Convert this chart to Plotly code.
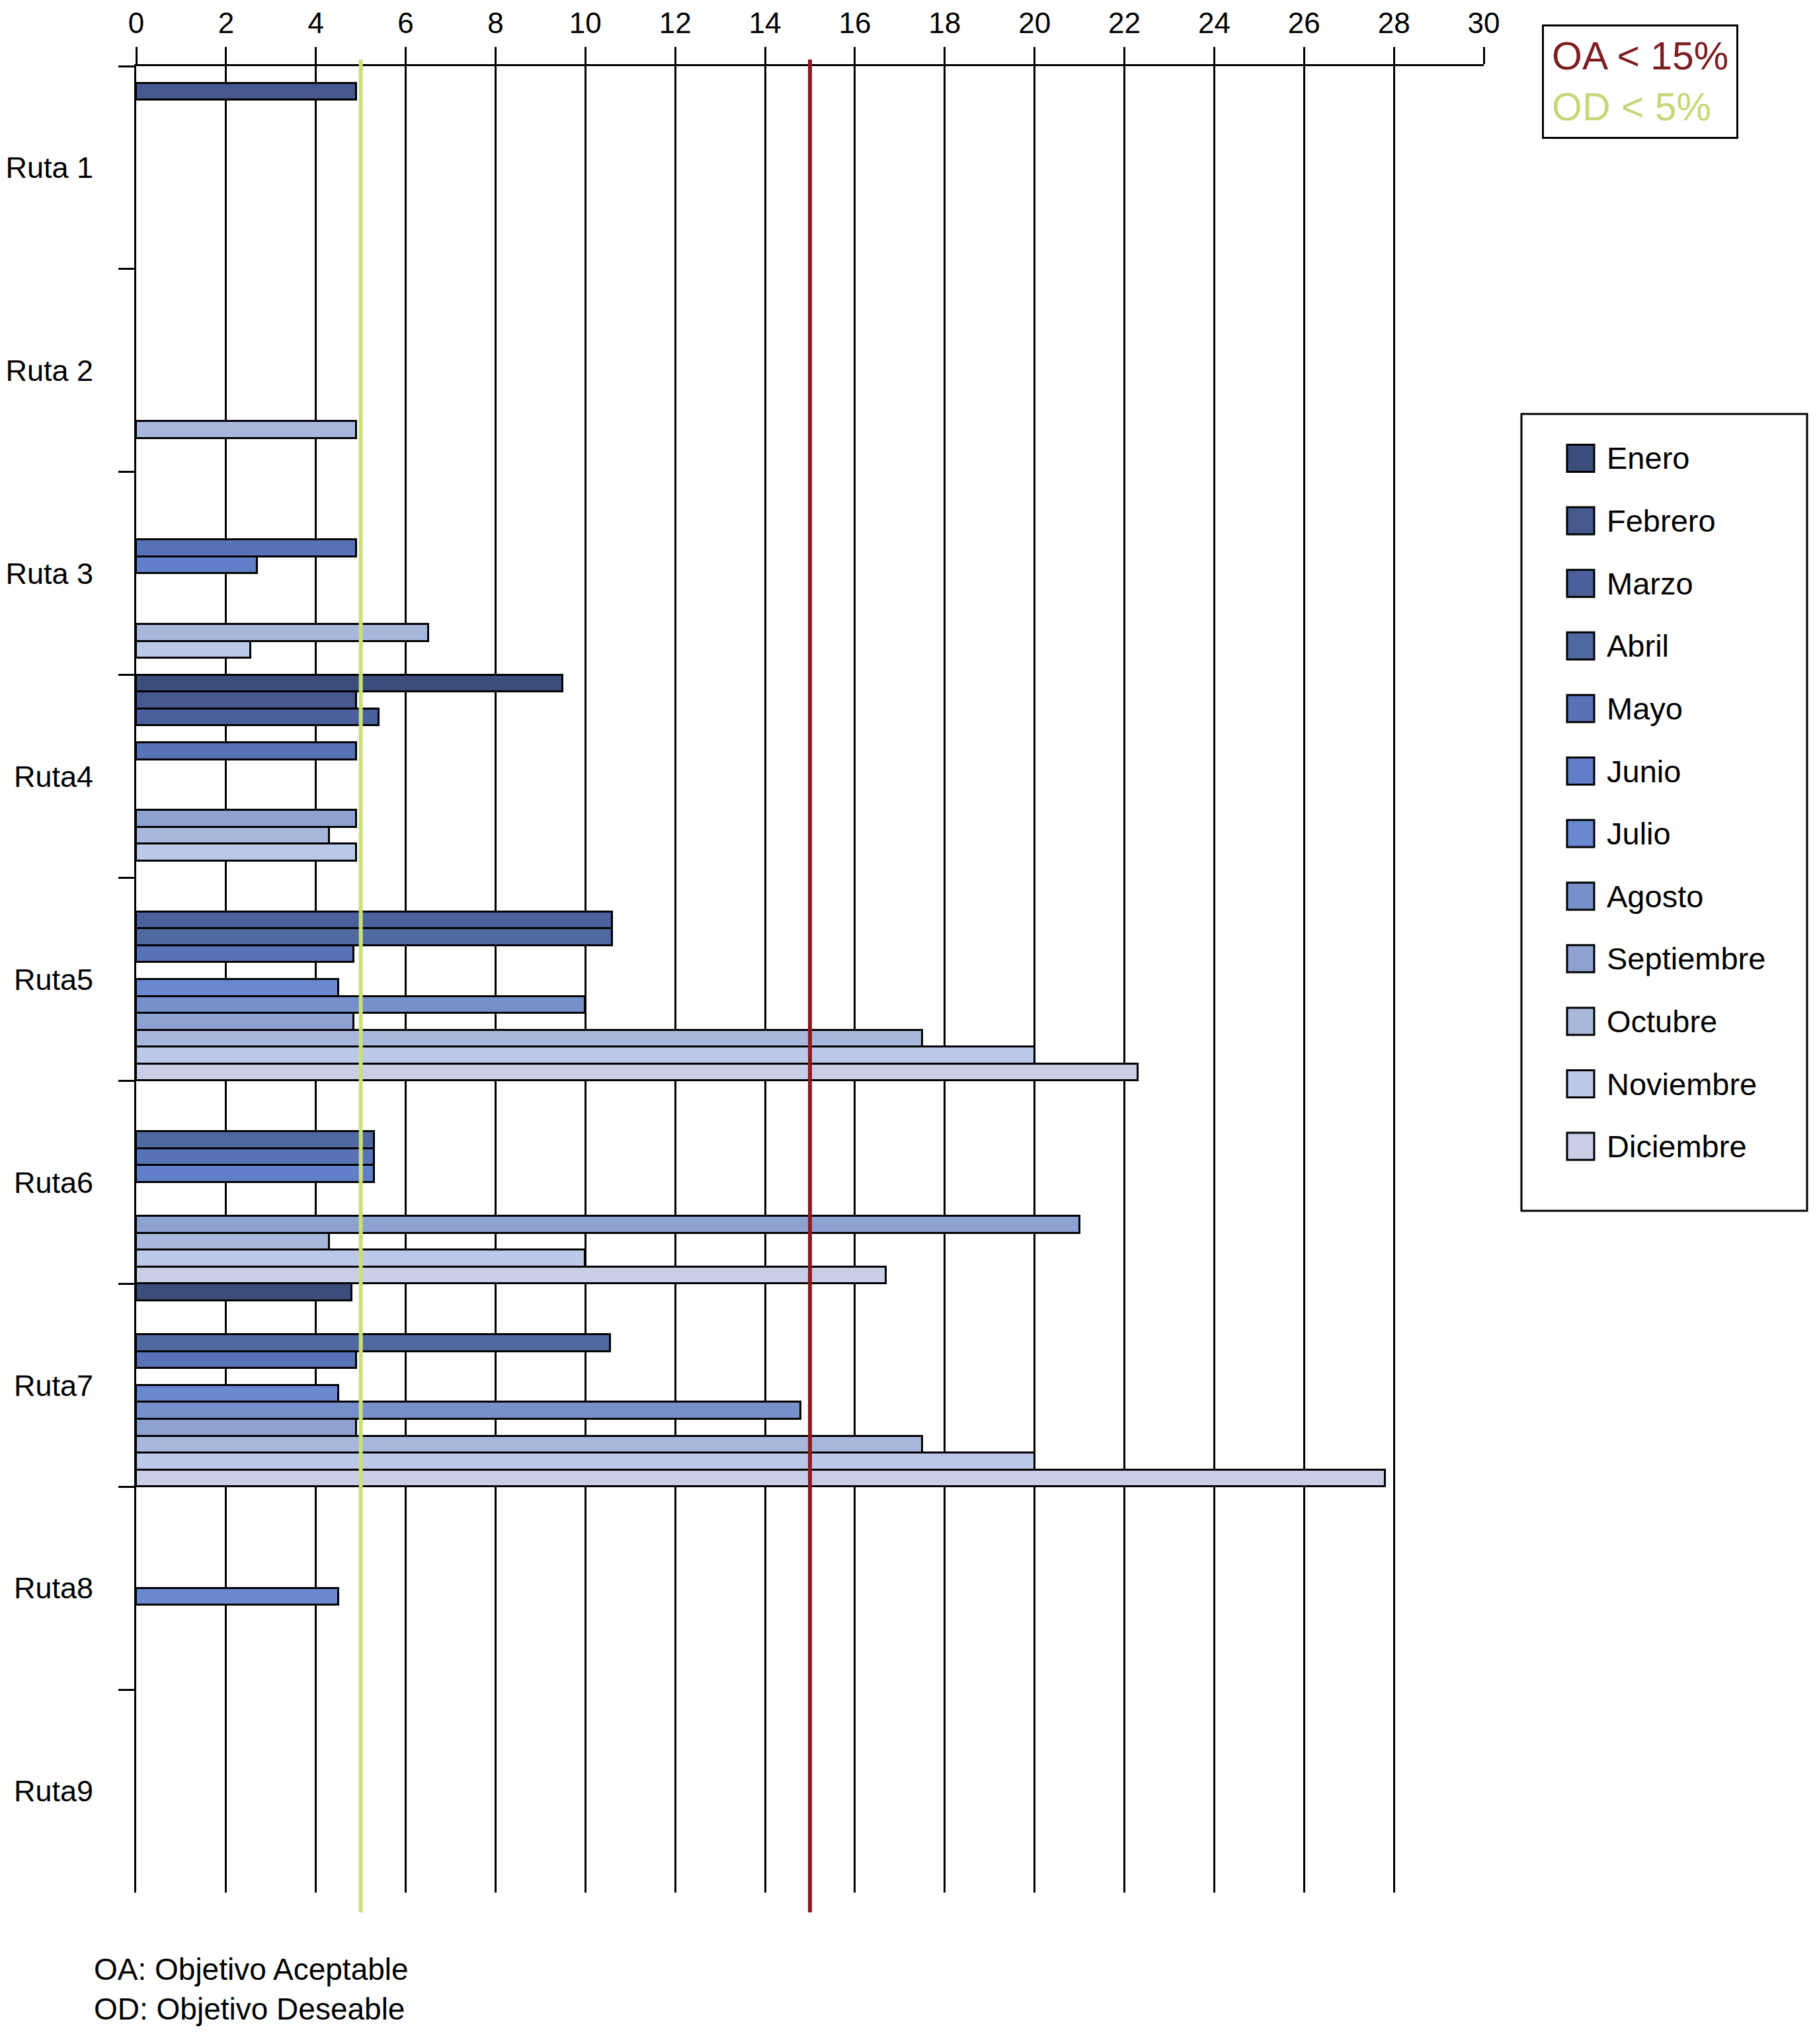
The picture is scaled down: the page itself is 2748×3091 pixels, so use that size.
import plotly.graph_objects as go

# ---- data ----
rutas = ["Ruta 1", "Ruta 2", "Ruta 3", "Ruta4", "Ruta5", "Ruta6", "Ruta7", "Ruta8", "Ruta9"]
meses = ["Enero", "Febrero", "Marzo", "Abril", "Mayo", "Junio", "Julio",
         "Agosto", "Septiembre", "Octubre", "Noviembre", "Diciembre"]

enero      = [None, None, None, 9.5,  None, None, 4.8,   None, None]
febrero    = [4.9,  None, None, 4.9,  None, None, None,  None, None]
marzo      = [None, None, None, 5.4,  10.6, None, None,  None, None]
abril      = [None, None, None, None, 10.6, 5.3,  10.55, None, None]
mayo       = [None, None, 4.9,  4.9,  4.85, 5.3,  4.9,   None, None]
junio      = [None, None, 2.7,  None, None, 5.3,  None,  None, None]
julio      = [None, None, None, None, 4.5,  None, 4.5,   4.5,  None]
agosto     = [None, None, None, None, 10.0, None, 14.8,  None, None]
septiembre = [None, None, None, 4.9,  4.85, 21.0, 4.9,   None, None]
octubre    = [None, 4.9,  6.5,  4.3,  17.5, 4.3,  17.5,  None, None]
noviembre  = [None, None, 2.55, 4.9,  20.0, 10.0, 20.0,  None, None]
diciembre  = [None, None, None, None, 22.3, 16.7, 27.8,  None, None]

series = [enero, febrero, marzo, abril, mayo, junio, julio,
          agosto, septiembre, octubre, noviembre, diciembre]

colores = ["#3b4d7a", "#45598f", "#4a5f9b", "#4f68a0", "#5872b8", "#617fc8",
           "#6a88d0", "#7690cb", "#8ea2d2", "#a8b8dc", "#bcc8e8", "#c8cee6"]

objetivo_aceptable = 15
objetivo_deseable = 5
x_ticks = list(range(0, 31, 2))

# ---- figure geometry (page pixels; body margin of 8px accounted for) ----
PAGE_OFF = 8
W, H = 2748 - 2 * PAGE_OFF, 3091 - 2 * PAGE_OFF
L, T = 206 - PAGE_OFF, 100 - PAGE_OFF
plot_w, plot_h = 2038, 2762
R, B = W - L - plot_w, H - T - plot_h
FONT = "Arial, Liberation Sans, Helvetica, sans-serif"


def px(x):
    return (x - PAGE_OFF - L) / plot_w


def py(y):
    return 1 - (y - PAGE_OFF - T) / plot_h


fig = go.Figure()
for i, (mes, vals) in enumerate(zip(meses, series)):
    fig.add_trace(go.Bar(
        y=rutas, x=vals, name=mes, orientation="h",
        marker=dict(color=colores[i], line=dict(color="black", width=3)),
        showlegend=False,
    ))

# target lines
for val, col in [(objetivo_deseable, "#c9df7a"), (objetivo_aceptable, "#8a1c22")]:
    fig.add_shape(type="line", xref="x", yref="paper",
                  x0=val, x1=val, y0=py(2892), y1=py(90),
                  line=dict(color=col, width=6), layer="above")

# OA / OD box
fig.add_annotation(
    xref="paper", yref="paper",
    x=px(2332), y=py(37),
    xanchor="left", yanchor="top", align="left",
    text=('<span style="color:#7d1e22">OA &lt; 15%</span><br>'
          '<span style="color:#c3d979">OD &lt; 5%</span>'),
    font=dict(size=59, family=FONT),
    showarrow=False, bordercolor="black", borderwidth=3, borderpad=12,
    bgcolor="white",
)

# footnote
fig.add_annotation(
    xref="paper", yref="paper",
    x=px(140), y=py(2950),
    xanchor="left", yanchor="top", align="left",
    text="OA: Objetivo Aceptable<br>OD: Objetivo Deseable",
    font=dict(size=46, family=FONT, color="black"),
    showarrow=False,
)

# month key (legend box)
fig.add_shape(type="rect", xref="paper", yref="paper",
              x0=px(2301), x1=px(2733), y0=py(1831), y1=py(626),
              line=dict(color="black", width=3), fillcolor="white", layer="above")
row0, row_step, sw = 693, 94.6, 41
for i, mes in enumerate(meses):
    yc = row0 + row_step * i
    fig.add_shape(type="rect", xref="paper", yref="paper",
                  x0=px(2370), x1=px(2370 + sw),
                  y0=py(yc + sw / 2), y1=py(yc - sw / 2),
                  fillcolor=colores[i], line=dict(color="black", width=3),
                  layer="above")
    fig.add_annotation(xref="paper", yref="paper", x=px(2428), y=py(yc),
                       xanchor="left", yanchor="middle", text=mes,
                       font=dict(size=47, family=FONT, color="black"),
                       showarrow=False)

fig.update_layout(
    width=W, height=H,
    margin=dict(l=L, r=R, t=T, b=B, autoexpand=False),
    paper_bgcolor="white", plot_bgcolor="white",
    font=dict(family=FONT, color="black"),
    barmode="group", bargap=0, bargroupgap=0,
    showlegend=False,
    xaxis=dict(
        side="top", range=[0, 30], tickvals=x_ticks,
        showgrid=True, gridcolor="black", gridwidth=3,
        showline=True, linecolor="black", linewidth=3,
        ticks="outside", ticklen=26, tickwidth=3, tickcolor="black",
        tickfont=dict(size=44, family=FONT), ticklabelstandoff=3,
        zeroline=False, automargin=False,
    ),
    yaxis=dict(
        autorange="reversed", type="category",
        tickson="boundaries", ticks="outside", ticklen=24, tickwidth=3,
        tickcolor="black",
        showline=True, linecolor="black", linewidth=3,
        showgrid=False, zeroline=False, automargin=False,
        tickfont=dict(size=45, family=FONT), ticklabelstandoff=53,
    ),
)

fig.write_html("out.html")
